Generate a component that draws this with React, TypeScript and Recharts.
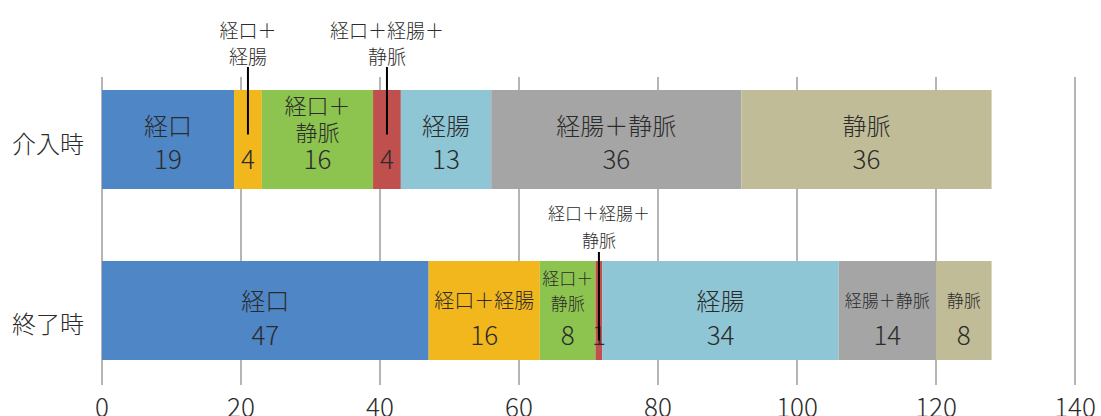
import React from 'react';
import { BarChart, Bar, XAxis, YAxis, CartesianGrid, LabelList } from 'recharts';

// ---- data ----
const categories = ['介入時', '終了時'];
const seriesNames = ['経口', '経口＋経腸', '経口＋静脈', '経口＋経腸＋静脈', '経腸', '経腸＋静脈', '静脈'];
const valuesIntervention = [19, 4, 16, 4, 13, 36, 36];
const valuesEnd = [47, 16, 8, 1, 34, 14, 8];
const xTicks = [0, 20, 40, 60, 80, 100, 120, 140];

// label texts (inside the bar / called out above the bar)
const innerNamesIntervention = [['経口'], null, ['経口＋', '静脈'], null, ['経腸'], ['経腸＋静脈'], ['静脈']];
const calloutNamesIntervention = [null, ['経口＋', '経腸'], null, ['経口＋経腸＋', '静脈'], null, null, null];
const innerNamesEnd = [['経口'], ['経口＋経腸'], ['経口＋', '静脈'], null, ['経腸'], ['経腸＋静脈'], ['静脈']];
const calloutNamesEnd = [null, null, null, ['経口＋経腸＋', '静脈'], null, null, null];

// ---- styles ----
const seriesColors = ['#4f86c6', '#f3b71e', '#8cc44f', '#c0504d', '#8ec6d5', '#a5a5a5', '#c0bc97'];
const FONT = '"Noto Sans CJK JP", "Noto Sans", sans-serif';
const WEIGHT = 300;
const TEXT = '#2b2b2b';
const nameFont = [
  [24, 24, 22, 24, 24, 24, 24],
  [24, 20, 17, 24, 24, 17, 17],
];
const valueFont = 26;
const layoutCfg = [
  { two: [-15.5, 18], three: [-36, -9, 18], single: 18, callout: [-61, -35], calloutFont: 19, leaderTop: -23, leaderEnd: -5 },
  { two: [-11.5, 22.5], three: [-33, -8, 23], single: 22.5, callout: [-49, -22], calloutFont: 17, leaderTop: -9, leaderEnd: 30 },
];
const catTickOffset = [2.5, 11.5];

const innerNames = [innerNamesIntervention, innerNamesEnd];
const calloutNames = [calloutNamesIntervention, calloutNamesEnd];
const allValues = [valuesIntervention, valuesEnd];

const data = categories.map((name, ci) => {
  const row: any = { name };
  seriesNames.forEach((_, si) => {
    row['s' + si] = allValues[ci][si];
  });
  return row;
});

const T = (p: any) => (
  <text x={p.x} y={p.y} textAnchor="middle" dominantBaseline="central" fontSize={p.size} fill={TEXT} fontFamily={FONT} fontWeight={WEIGHT}>
    {p.children}
  </text>
);

const makeLabel = (si: number) => (props: any) => {
  const { x, y, width, height, value, index } = props;
  const ci = index as number;
  const cfg = layoutCfg[ci];
  const cx = Number(x) + Number(width) / 2;
  const cy = Number(y) + Number(height) / 2;
  const top = Number(y);
  const names = innerNames[ci][si];
  const callout = calloutNames[ci][si];
  const els: any[] = [];
  if (names && names.length === 1) {
    els.push(<T key="n0" x={cx} y={cy + cfg.two[0]} size={nameFont[ci][si]}>{names[0]}</T>);
    els.push(<T key="v" x={cx} y={cy + cfg.two[1]} size={valueFont}>{value}</T>);
  } else if (names && names.length === 2) {
    names.forEach((t: string, k: number) => {
      els.push(<T key={'n' + k} x={cx} y={cy + cfg.three[k]} size={nameFont[ci][si]}>{t}</T>);
    });
    els.push(<T key="v" x={cx} y={cy + cfg.three[2]} size={valueFont}>{value}</T>);
  } else {
    els.push(<T key="v" x={cx} y={cy + cfg.single} size={valueFont}>{value}</T>);
  }
  if (callout) {
    callout.forEach((t: string, k: number) => {
      els.push(<T key={'c' + k} x={cx} y={top + cfg.callout[k]} size={cfg.calloutFont}>{t}</T>);
    });
    els.push(
      <line key="ld" x1={cx} x2={cx} y1={top + cfg.leaderTop} y2={cy + cfg.leaderEnd} stroke="#000" strokeWidth={2} />
    );
  }
  return <g>{els}</g>;
};

const CategoryTick = (props: any) => {
  const { x, y, payload } = props;
  const idx = payload.index ?? categories.indexOf(payload.value);
  return (
    <text x={x} y={y + (catTickOffset[idx] ?? 0)} textAnchor="end" dominantBaseline="central" fontSize={24} fill={TEXT} fontFamily={FONT} fontWeight={WEIGHT}>
      {payload.value}
    </text>
  );
};

export default function App() {
  return (
    <div style={{ position: 'absolute', left: 0, top: 0, width: 1101, height: 416, background: '#fff' }}>
      <BarChart
        width={1101}
        height={416}
        data={data}
        layout="vertical"
        margin={{ top: 54, right: 26, bottom: 0, left: 0 }}
      >
        <CartesianGrid horizontal={false} vertical={true} stroke="#b5b5b5" strokeWidth={2} y={77} height={308} />
        <XAxis
          type="number"
          domain={[0, 140]}
          ticks={xTicks}
          interval={0}
          axisLine={false}
          tickLine={false}
          tickSize={0}
          tickMargin={3}
          height={20}
          tick={{ fontSize: 26, fill: TEXT, fontFamily: FONT, fontWeight: WEIGHT }}
        />
        <YAxis
          type="category"
          dataKey="name"
          width={102}
          axisLine={false}
          tickLine={false}
          tickSize={0}
          tickMargin={18}
          tick={<CategoryTick />}
        />
        {seriesNames.map((sn, si) => (
          <Bar key={sn} name={sn} dataKey={'s' + si} stackId="a" fill={seriesColors[si]} barSize={99} isAnimationActive={false}>
            <LabelList dataKey={'s' + si} content={makeLabel(si)} />
          </Bar>
        ))}
      </BarChart>
    </div>
  );
}
